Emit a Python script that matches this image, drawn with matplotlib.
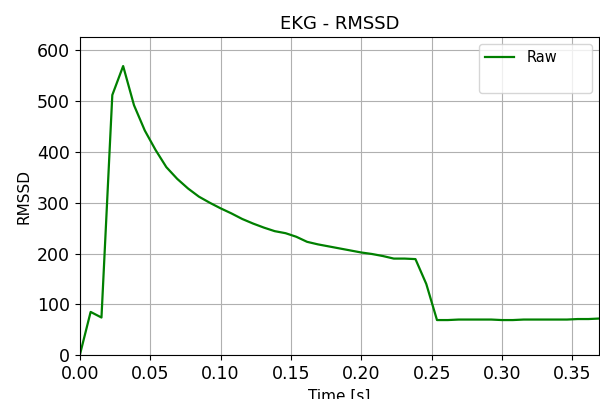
import matplotlib
matplotlib.use('Agg')
import matplotlib.pyplot as plt

# sample times [s]
t = [0.0, 0.0077, 0.0154, 0.0231, 0.0308, 0.0385, 0.0462, 0.0538, 0.0615, 0.0692,
     0.0769, 0.0846, 0.0923, 0.1000, 0.1077, 0.1154, 0.1231, 0.1308, 0.1385, 0.1462,
     0.1538, 0.1615, 0.1692, 0.1769, 0.1846, 0.1923, 0.2000, 0.2077, 0.2154, 0.2231,
     0.2308, 0.2385, 0.2462, 0.2538, 0.2615, 0.2692, 0.2769, 0.2846, 0.2923, 0.3000,
     0.3077, 0.3154, 0.3231, 0.3308, 0.3385, 0.3462, 0.3538, 0.3615, 0.3692]
# RMSSD values
rmssd = [0, 85, 74, 512, 569, 492, 442, 404, 370, 347,
         328, 312, 300, 289, 279, 268, 259, 251, 244, 240,
         233, 223, 218, 214, 210, 206, 202, 199, 195, 190,
         190, 189, 140, 69, 69, 70, 70, 70, 70, 69,
         69, 70, 70, 70, 70, 70, 71, 71, 72]

fig = plt.figure(figsize=(6, 3.99), dpi=100)
ax = fig.add_axes([0.133, 0.110, 0.866, 0.797])
ax.plot(t, rmssd, color='green', linewidth=1.6, label='Raw')
ax.plot([], [], color='none', label=' ' * 13)
ax.set_xlim(0, t[-1])
ax.set_ylim(0, 626)
ax.grid(True)
ax.tick_params(labelsize=12.5)
ax.set_title('EKG - RMSSD', fontsize=13)
ax.set_xlabel('Time [s]', fontsize=11)
ax.set_ylabel('RMSSD', fontsize=11)
ax.legend(loc='upper right', fontsize=10.5)
fig.savefig('out.png')
